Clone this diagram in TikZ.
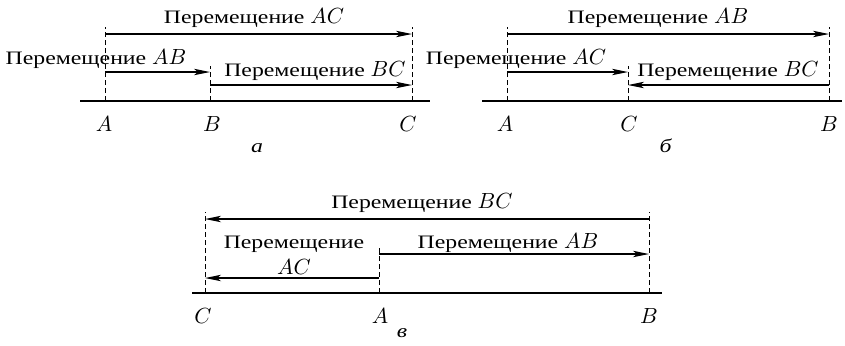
\documentclass[tikz,border=0pt]{standalone}
\usepackage{fontspec}
\setmainfont{Liberation Serif}[FakeStretch=1.25]
\usepackage{amsmath}
\DeclareMathSizes{9.5}{11}{8}{6}
\usepackage{tikz}
\usetikzlibrary{arrows.meta}

\begin{document}
\begin{tikzpicture}[x=0.5pt, y=-0.5pt,
    axisline/.style={line width=1.4pt},
    guideline/.style={line width=0.5pt, dash pattern=on 2.5pt off 1.5pt},
    disp/.style={line width=0.6pt, -{Stealth[length=8pt, width=3.2pt, inset=2pt]}},
    every node/.style={font=\fontsize{9.5}{13}\selectfont, inner sep=0pt}]
    \useasboundingbox (0,0) rectangle (845,345);
    % a
    \coordinate (aL)  at (80, 101);
    \coordinate (aR)  at (430, 101);
    \coordinate (aA)  at (105, 101);
    \coordinate (aB)  at (210, 101);
    \coordinate (aC)  at (412, 101);
    \coordinate (aAt) at (105, 27);
    \coordinate (aBt) at (210, 66);
    \coordinate (aCt) at (412, 27);
    \draw [axisline]  (aL) -- (aR);
    \draw [guideline] (aA) -- (aAt);
    \draw [guideline] (aB) -- (aBt);
    \draw [guideline] (aC) -- (aCt);
    \draw [disp]      (aA |- 0,34) -- (aC |- 0,34);
    \draw [disp]      (aA |- 0,72) -- (aB |- 0,72);
    \draw [disp]      (aB |- 0,85) -- (aC |- 0,85);
    \node [anchor=base] (aACl) at (254, 23) {Перемещение $AC$};
    \node [anchor=base] (aABl) at (96, 64)  {Перемещение $AB$};
    \node [anchor=base] (aBCl) at (315, 76) {Перемещение $BC$};
    \node [anchor=base] (aAl)  at (104, 131) {$A$};
    \node [anchor=base] (aBl)  at (212, 131) {$B$};
    \node [anchor=base] (aCl)  at (408, 131) {$C$};
    \node [anchor=base] (acap) at (257, 152) {\textit{а}};
    % b
    \coordinate (bL)  at (482, 101);
    \coordinate (bR)  at (842, 101);
    \coordinate (bA)  at (507, 101);
    \coordinate (bC)  at (628, 101);
    \coordinate (bB)  at (829, 101);
    \coordinate (bAt) at (507, 27);
    \coordinate (bCt) at (628, 66);
    \coordinate (bBt) at (829, 27);
    \draw [axisline]  (bL) -- (bR);
    \draw [guideline] (bA) -- (bAt);
    \draw [guideline] (bC) -- (bCt);
    \draw [guideline] (bB) -- (bBt);
    \draw [disp]      (bA |- 0,34) -- (bB |- 0,34);
    \draw [disp]      (bA |- 0,72) -- (bC |- 0,72);
    \draw [disp]      (bB |- 0,85) -- (bC |- 0,85);
    \node [anchor=base] (bABl) at (658, 23) {Перемещение $AB$};
    \node [anchor=base] (bACl) at (516, 64) {Перемещение $AC$};
    \node [anchor=base] (bBCl) at (728, 76) {Перемещение $BC$};
    \node [anchor=base] (bAl)  at (505, 131) {$A$};
    \node [anchor=base] (bCl)  at (629, 131) {$C$};
    \node [anchor=base] (bBl)  at (829, 131) {$B$};
    \node [anchor=base] (bcap) at (666, 152) {\textit{б}};
    % c
    \coordinate (cL)  at (192, 293);
    \coordinate (cR)  at (662, 293);
    \coordinate (cC)  at (205, 293);
    \coordinate (cA)  at (379, 293);
    \coordinate (cB)  at (649, 293);
    \coordinate (cCt) at (205, 212);
    \coordinate (cAt) at (379, 248);
    \coordinate (cBt) at (649, 212);
    \draw [axisline]  (cL) -- (cR);
    \draw [guideline] (cC) -- (cCt);
    \draw [guideline] (cA) -- (cAt);
    \draw [guideline] (cB) -- (cBt);
    \draw [disp]      (cB |- 0,219) -- (cC |- 0,219);
    \draw [disp]      (cA |- 0,254) -- (cB |- 0,254);
    \draw [disp]      (cA |- 0,278) -- (cC |- 0,278);
    \node [anchor=base]  (cBCl) at (422, 208) {Перемещение $BC$};
    \node [anchor=north, align=center] (cACl) at (294, 236) {Перемещение\\$AC$};
    \node [anchor=base]  (cABl) at (508, 248) {Перемещение $AB$};
    \node [anchor=base]  (cCl)  at (203, 323) {$C$};
    \node [anchor=base]  (cAl)  at (380, 323) {$A$};
    \node [anchor=base]  (cBl)  at (649, 323) {$B$};
    \node [anchor=base]  (ccap) at (402, 337) {\textit{в}};
\end{tikzpicture}
\end{document}
